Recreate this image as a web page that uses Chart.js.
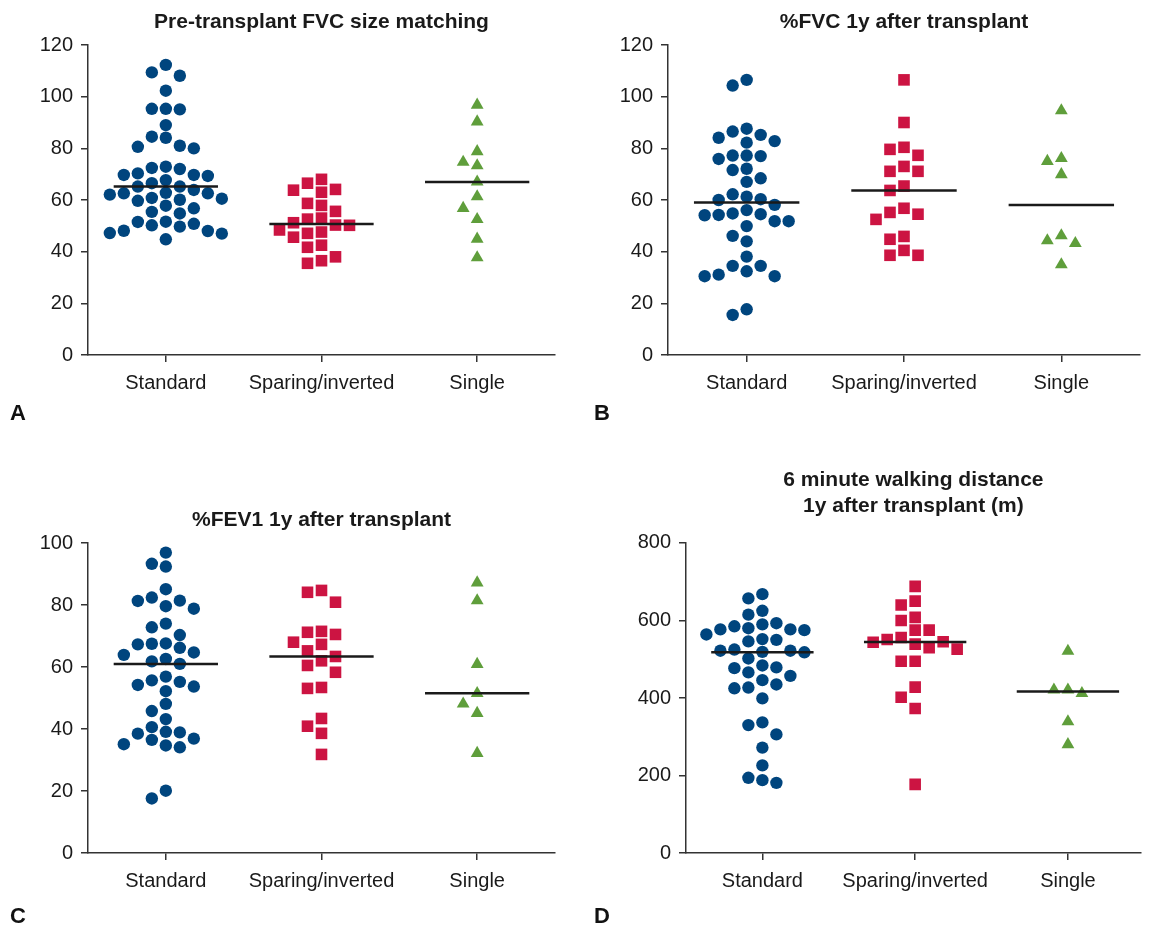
<!DOCTYPE html>
<html><head><meta charset="utf-8">
<script src="https://cdn.jsdelivr.net/npm/chart.js@4.4.0/dist/chart.umd.min.js"></script>
<style>
html,body{margin:0;padding:0;background:#fff;overflow:hidden;width:1149px;height:928px;}
canvas{position:absolute;}
.lab{position:absolute;font:bold 22px 'Liberation Sans',Arial,sans-serif;color:#111;line-height:1;}
</style></head><body>
<canvas id="cA" width="574" height="464" style="left:0;top:0"></canvas>
<canvas id="cB" width="575" height="464" style="left:574px;top:0"></canvas>
<canvas id="cC" width="574" height="464" style="left:0;top:464px"></canvas>
<canvas id="cD" width="575" height="464" style="left:574px;top:464px"></canvas>
<div class="lab" style="left:10px;top:402px">A</div>
<div class="lab" style="left:594px;top:402px">B</div>
<div class="lab" style="left:10px;top:905px">C</div>
<div class="lab" style="left:594px;top:905px">D</div>
<script>
// ---- categories & tick labels ----
const categories = ['Standard', 'Sparing/inverted', 'Single'];
const ticksPct120 = [0, 20, 40, 60, 80, 100, 120];
const ticksPct100 = [0, 20, 40, 60, 80, 100];
const ticksWalk = [0, 200, 400, 600, 800];

// ---- A: Pre-transplant FVC size matching ----
const preFvcStandard = [112.3,109.4,108.1,102.3,95.3,95.3,95.1,89,84.1,84.5,80.6,80,81,72.9,72,69.7,69.3,69.7,70.3,72.4,67.7,65.2,63.9,65.2,66.5,62.1,60.5,62.6,59.7,62.6,62.8,60.1,60.8,56.8,57.8,55.4,54.8,50.2,51.5,50.8,51.6,49.7,48,47.2,47,48.1,44.8];
const preFvcSparing = [68,64.1,63,63.8,66.5,57.9,55.6,58.7,52.6,53,50.2,48.4,50.3,47.6,51.2,47.1,45.6,42.5,38,41.7,35.5,36.5];
const preFvcSingle = [96.8,90.3,78.8,74.7,73.3,67,61.3,56.8,52.5,44.9,37.7];

// ---- B: %FVC 1y after transplant ----
const fvc1yStandard = [106.5,104.3,85.2,87.6,82.8,82.2,84.1,86.5,77.2,75.9,77,77.2,71.6,72.1,68.4,67,62.2,60.3,60,61.3,58.1,54.8,54.2,56.1,51.8,49.9,51.8,54.1,54.5,46.1,44,38.1,34.5,32.4,30.5,30.5,31.1,34.5,15.5,17.7];
const fvc1ySparing = [106.5,90,79.6,77.3,80.4,73,71.1,71.1,65.4,63.7,55.2,52.5,54.5,56.8,45.9,44.8,40.5,38.6,38.6];
const fvc1ySingle = [94.6,76.1,75,69.9,44.3,43.2,46.2,35];

// ---- C: %FEV1 1y after transplant ----
const fev1Standard = [96.9,93.3,92.4,85.1,81.4,79.6,78.8,81.3,82.4,72.8,74,70.3,66.2,67.6,67.3,67.5,64.7,63.9,61,61.8,62.6,55.7,54.2,56.9,52.2,53.7,55.2,48.1,45.8,43.2,40.6,38.5,38.9,39.1,36.5,34.7,34.1,35.1,36.9,20.1,17.6];
const fev1Sparing = [84.7,80.9,84.1,71.2,70.5,71.5,67.3,68,65.2,62,63.4,60.5,58.3,53.1,53.4,43.4,40.9,38.6,31.8];
const fev1Single = [87.2,81.4,60.9,51.5,48.1,45.1,32.2];

// ---- D: 6 minute walking distance 1y after transplant (m) ----
const walkStandard = [668,657,625,615,577,564,593,580,585,590,577,575,550,546,552,522,519,502,518,522,525,484,477,457,446,466,479,427,425,435,399,337,330,306,272,226,194,181,188];
const walkSparing = [688,640,650,608,600,575,575,556,530,544,539,545,526,551,495,495,428,402,373,177];
const walkSingle = [521,421,412,421,339,280];

const FONT = "'Liberation Sans', Arial, Helvetica, sans-serif";
const COLORS = ['#00457e', '#cc1442', '#5f9e3b'];
const STYLES = ['circle', 'rect', 'triangle'];
const RADII = [6.2, 8.2, 7.4];
const HALF = 0.335;

function median(a) {
  const s = [...a].sort((x, y) => x - y);
  const n = s.length;
  return n % 2 ? s[(n - 1) / 2] : (s[n / 2 - 1] + s[n / 2]) / 2;
}

function swarm(chart) {
  const xs = chart.scales.x, ys = chart.scales.y;
  const step = 14, gap = 12.5;
  chart.data.datasets.forEach(ds => {
    if (!ds.values) return;
    const cx = xs.getPixelForValue(ds.cat);
    const placed = [];
    const order = ds.values.map((v, i) => i).sort((a, b) => ds.values[b] - ds.values[a]);
    order.forEach(i => {
      const py = ys.getPixelForValue(ds.values[i]);
      for (let k = 0; k < 40; k++) {
        const off = k === 0 ? 0 : (k % 2 ? -Math.ceil(k / 2) : Math.ceil(k / 2));
        const px = cx + off * step;
        if (placed.every(p => Math.abs(p.x - px) > 1 || Math.abs(p.y - py) >= gap)) {
          placed.push({x: px, y: py});
          ds.data[i] = {x: xs.getValueForPixel(px), y: ds.values[i]};
          break;
        }
      }
    });
  });
  chart.update('none');
}

function makePanel(id, o) {
  const datasets = [];
  o.groups.forEach((vals, i) => {
    datasets.push({
      values: vals, cat: i + 1,
      data: vals.map(v => ({x: i + 1, y: v})),
      pointStyle: STYLES[i], pointRadius: RADII[i], pointHoverRadius: RADII[i],
      backgroundColor: COLORS[i], borderColor: COLORS[i], pointBorderWidth: 0, borderWidth: 0,
      order: 2
    });
  });
  o.groups.forEach((vals, i) => {
    const m = median(vals);
    datasets.push({
      data: [{x: i + 1 - HALF, y: m}, {x: i + 1 + HALF, y: m}],
      showLine: true, borderColor: '#1a1a1a', borderWidth: 2.5, pointRadius: 0, pointHoverRadius: 0,
      order: 1
    });
  });
  const axisGrid = {display: true, drawOnChartArea: false, drawTicks: true, tickLength: 7, color: '#333', lineWidth: 1.5};
  const chart = new Chart(document.getElementById(id), {
    type: 'scatter',
    data: {datasets},
    options: {
      responsive: false, animation: false, events: [],
      layout: {padding: {left: 0, right: o.padRight, top: 0, bottom: 0}},
      plugins: {
        legend: {display: false}, tooltip: {enabled: false},
        title: {
          display: true, text: o.title, fullSize: false, color: '#1a1a1a',
          font: {family: FONT, size: 21, weight: 'bold', lineHeight: o.titleLH},
          padding: {top: o.titlePad[0], bottom: o.titlePad[1]}
        }
      },
      scales: {
        x: {
          type: 'linear', min: 0.5, max: o.xMax,
          afterBuildTicks: s => { s.ticks = categories.map((c, i) => ({value: i + 1})); },
          afterFit: s => { s.height = o.xAxisH; },
          ticks: {callback: v => categories[Math.round(v) - 1] || '', font: {family: FONT, size: 20}, color: '#1a1a1a', padding: 9, autoSkip: false, maxRotation: 0},
          grid: axisGrid,
          border: {display: true, color: '#333', width: 1.5}
        },
        y: {
          min: 0, max: o.yTicks[o.yTicks.length - 1],
          afterBuildTicks: s => { s.ticks = o.yTicks.map(v => ({value: v})); },
          afterFit: s => { s.width = o.yWidth; },
          ticks: {font: {family: FONT, size: 20}, color: '#1a1a1a', padding: 8},
          grid: axisGrid,
          border: {display: true, color: '#333', width: 1.5}
        }
      }
    }
  });
  swarm(chart);
  return chart;
}

makePanel('cA', {groups: [preFvcStandard, preFvcSparing, preFvcSingle], yTicks: ticksPct120,
  title: 'Pre-transplant FVC size matching', titleLH: 1.2, titlePad: [10, 9.8], yWidth: 88, padRight: 19, xMax: 3.5, xAxisH: 109});
makePanel('cB', {groups: [fvc1yStandard, fvc1ySparing, fvc1ySingle], yTicks: ticksPct120,
  title: '%FVC 1y after transplant', titleLH: 1.2, titlePad: [10, 9.8], yWidth: 94, padRight: 9, xMax: 3.5, xAxisH: 109});
makePanel('cC', {groups: [fev1Standard, fev1Sparing, fev1Single], yTicks: ticksPct100,
  title: '%FEV1 1y after transplant', titleLH: 1.2, titlePad: [44, 9.8], yWidth: 88, padRight: 19, xMax: 3.5, xAxisH: 75});
makePanel('cD', {groups: [walkStandard, walkSparing, walkSingle], yTicks: ticksWalk,
  title: ['6 minute walking distance', '1y after transplant (m)'], titleLH: 1.24, titlePad: [3, 23.9], yWidth: 112, padRight: 0, xMax: 3.477, xAxisH: 75});
</script>
</body></html>
